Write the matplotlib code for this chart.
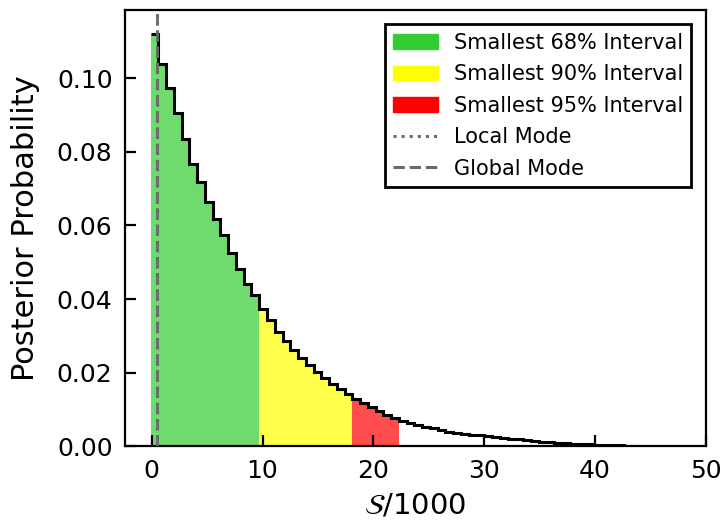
import numpy as np
import matplotlib
matplotlib.use("Agg")
import matplotlib.pyplot as plt
from matplotlib.patches import Patch
from matplotlib.lines import Line2D

# histogram of S/1000, bin width 0.7 starting at -0.1
bin_start = -0.1
bin_width = 0.7
probs = [
    0.1120, 0.1039, 0.0974, 0.0904, 0.0834, 0.0768, 0.0717, 0.0663, 0.0618, 0.0573,
    0.0525, 0.0483, 0.0442, 0.0410, 0.0374, 0.0343, 0.0311, 0.0286, 0.0262, 0.0240,
    0.0220, 0.0202, 0.0186, 0.0170, 0.0156, 0.0142, 0.0129, 0.0117, 0.0106, 0.0095,
    0.0085, 0.0077, 0.0070, 0.0065, 0.0059, 0.0054, 0.0049, 0.0044, 0.0040, 0.0037,
    0.0034, 0.0032, 0.0030, 0.0028, 0.0025, 0.0023, 0.0021, 0.0019, 0.0017, 0.0015,
    0.0013, 0.0012, 0.0010, 0.0009, 0.0008, 0.0007, 0.0006, 0.0005, 0.0004, 0.0003,
    0.0003, 0.0002, 0.0001,
]
# interval ends as bin indices
end_68 = 14
end_90 = 26
end_95 = 32
local_mode = 0.45
global_mode = 0.45

probs = np.array(probs)
edges = bin_start + bin_width * np.arange(len(probs) + 1)

fig = plt.figure(figsize=(7.23, 5.21), dpi=100)
ax = fig.add_axes([0.173, 0.143, 0.8035, 0.838])

ax.stairs(probs[:end_68], edges[:end_68 + 1], fill=True, color='limegreen', alpha=0.7, lw=0)
ax.stairs(probs[end_68:end_90], edges[end_68:end_90 + 1], fill=True, color='yellow', alpha=0.7, lw=0)
ax.stairs(probs[end_90:end_95], edges[end_90:end_95 + 1], fill=True, color='red', alpha=0.7, lw=0)
ax.stairs(probs, edges, baseline=None, color='black', lw=2.2, zorder=3)

ax.axvline(local_mode, color='dimgray', ls=':', lw=2.2, alpha=0.9, zorder=4)
ax.axvline(global_mode, color='dimgray', ls='--', lw=2.2, alpha=0.9, zorder=4)

ax.set_xlim(-2.4, 50)
ax.set_ylim(0, 0.1185)
ax.set_xticks([0, 10, 20, 30, 40, 50])
ax.set_yticks([0.0, 0.02, 0.04, 0.06, 0.08, 0.10])
ax.set_yticklabels(['0.00', '0.02', '0.04', '0.06', '0.08', '0.10'])
ax.tick_params(direction='in', length=8, width=1.6, labelsize=18, pad=9)
for s in ax.spines.values():
    s.set_linewidth(1.6)

ax.set_xlabel(r'$\mathcal{S}$/1000', fontsize=21, labelpad=6)
ax.set_ylabel('Posterior Probability', fontsize=22, labelpad=12)

handles = [
    Patch(color='limegreen', label='Smallest 68% Interval'),
    Patch(color='yellow', label='Smallest 90% Interval'),
    Patch(color='red', label='Smallest 95% Interval'),
    Line2D([], [], color='dimgray', ls=':', lw=2.2, label='Local Mode'),
    Line2D([], [], color='dimgray', ls='--', lw=2.2, label='Global Mode'),
]
leg = ax.legend(handles=handles, loc='upper right', fontsize=15, fancybox=False,
                framealpha=1, edgecolor='black', handlelength=2.15,
                handletextpad=0.75, borderaxespad=0.7, labelspacing=0.55)
leg.get_frame().set_linewidth(2)

fig.savefig('out.png', dpi=100)
